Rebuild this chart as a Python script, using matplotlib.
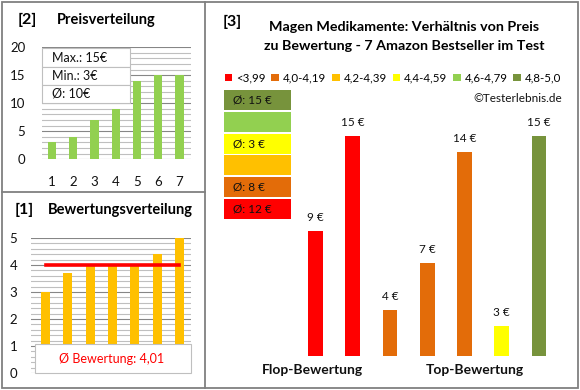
import numpy as np
import matplotlib.pyplot as plt
from matplotlib.patches import Rectangle, Patch
from matplotlib.lines import Line2D

plt.rcParams['font.family'] = ['Lato', 'DejaVu Sans']

# [2] Preisverteilung
preis_pos = [1, 2, 3, 4, 5, 6, 7]
preise = [3, 4, 7, 9, 14, 15, 15]

# [1] Bewertungsverteilung
bew_pos = [1, 2, 3, 4, 5, 6, 7]
bewertungen = [3.0, 3.7, 4.0, 4.0, 4.0, 4.4, 5.0]

# [3] Preis zu Bewertung
klassen = ['<3,99', '4,0-4,19', '4,2-4,39', '4,4-4,59', '4,6-4,79', '4,8-5,0']
klassen_farben = ['#FF0000', '#E36C09', '#FFC000', '#FFFF00', '#92D050', '#77933C']
produkt_preise = [9, 15, 4, 7, 14, 3, 15]
produkt_klasse = [0, 0, 1, 1, 1, 3, 5]
gruppen = ['Flop-Bewertung', 'Top-Bewertung']
gruppen_pos = [-0.09, 4.27]

W, H = 580, 390
fig = plt.figure(figsize=(W / 100, H / 100), dpi=100)
fig.patch.set_facecolor('white')

GRID_MIN = '#BFBFBF'
GRID_MAJ = '#868686'
TXT = '#111111'


def px_axes(x0, y0, x1, y1):
    # pixel box measured from the top-left corner
    return fig.add_axes([x0 / W, 1 - y1 / H, (x1 - x0) / W, (y1 - y0) / H])


def px_text(x, y, s, **kw):
    return fig.text(x / W, 1 - y / H, s, **kw)


def px_rect(x0, y0, x1, y1, **kw):
    r = Rectangle((x0 / W, 1 - y1 / H), (x1 - x0) / W, (y1 - y0) / H,
                  transform=fig.transFigure, **kw)
    fig.add_artist(r)
    return r


def px_line(x0, y0, x1, y1, **kw):
    fig.add_artist(Line2D([x0 / W, x1 / W], [1 - y0 / H, 1 - y1 / H],
                          transform=fig.transFigure, **kw))


# frames
px_rect(2, 2, 578, 388, fill=False, ec='#808080', lw=1.3, zorder=5)
px_line(205, 2, 205, 388, color='#808080', lw=1.3, zorder=5)
px_line(2, 192, 205, 192, color='#808080', lw=1.3, zorder=5)

# ---------------- [2] Preisverteilung
ax1 = px_axes(42, 47.3, 191, 159.3)
for v in range(0, 21):
    ax1.axhline(v, color=GRID_MAJ if v % 5 == 0 else GRID_MIN, lw=0.8, zorder=1)
ax1.bar(preis_pos, preise, width=0.38, color='#92D050', zorder=3)
ax1.set_ylim(0, 20)
ax1.set_xlim(0.53, 7.54)
ax1.set_yticks([0, 5, 10, 15, 20])
ax1.set_xticks(preis_pos)
ax1.tick_params(length=0, labelsize=9.5, colors=TXT)
ax1.tick_params(axis='y', pad=12)
ax1.tick_params(axis='x', pad=12)
for s in ax1.spines.values():
    s.set_visible(False)

px_text(27, 20, '[2]', fontsize=11.5, fontweight='bold', ha='center', va='center')
px_text(57, 20, 'Preisverteilung', fontsize=10.5, fontweight='bold', ha='left', va='center')

info = ['Max.: %d€' % max(preise), 'Min.: %d€' % min(preise),
        'Ø: %d€' % round(np.mean(preise))]
rows = [(48, 67), (67, 85), (85, 103)]
for (y0, y1), s in zip(rows, info):
    px_rect(42, y0, 130, y1, fc='white', ec='#BFBFBF', lw=0.8, zorder=2)
    px_text(52, (y0 + y1) / 2, s, fontsize=9, color=TXT, ha='left', va='center', zorder=3)

# ---------------- [1] Bewertungsverteilung
ax2 = px_axes(31, 238, 191, 373)
for i in range(0, 26):
    v = i * 0.2
    ax2.axhline(v, color=GRID_MAJ if i % 5 == 0 else GRID_MIN, lw=0.8, zorder=1)
ax2.bar(bew_pos, bewertungen, width=0.4, color='#FFC000', zorder=3)
avg = np.mean(bewertungen)
ax2.plot([bew_pos[0], bew_pos[-1]], [avg, avg], color='#FF0000', lw=2.6, zorder=4)
ax2.set_ylim(0, 5)
ax2.set_xlim(0.35, 7.52)
ax2.set_yticks([0, 1, 2, 3, 4, 5])
ax2.set_xticks([])
ax2.tick_params(length=0, labelsize=9.5, colors=TXT, pad=10)
for s in ax2.spines.values():
    s.set_visible(False)

px_rect(35, 344, 191, 373, fc='white', ec='#BFBFBF', lw=0.8, zorder=2)
px_text(112, 359, 'Ø Bewertung: ' + ('%.2f' % avg).replace('.', ','),
        fontsize=9, color='#FF0000', ha='center', va='center', zorder=3)

px_text(24, 210, '[1]', fontsize=11.5, fontweight='bold', ha='center', va='center')
px_text(48, 210, 'Bewertungsverteilung', fontsize=10.5, fontweight='bold', ha='left', va='center')

# ---------------- [3] Preis zu Bewertung
ax3 = px_axes(296.9, 88.5, 557.6, 356)
x3 = np.arange(len(produkt_preise))
farben = [klassen_farben[k] for k in produkt_klasse]
ax3.bar(x3, produkt_preise, width=0.4, color=farben, bottom=0, zorder=3)
ax3.set_ylim(1.1, 18)
ax3.set_xlim(-0.5, 6.5)
for xi, v in zip(x3, produkt_preise):
    ax3.annotate('%d €' % v, (xi, v), xytext=(0, 9.7), textcoords='offset points',
                 ha='center', va='center', fontsize=8.5, color=TXT)
ax3.set_yticks([])
ax3.set_xticks(gruppen_pos)
ax3.set_xticklabels(gruppen, fontsize=10, fontweight='bold', color=TXT)
ax3.tick_params(length=0, pad=5.5)
ax3.patch.set_visible(False)
for s in ax3.spines.values():
    s.set_visible(False)

px_text(223, 22, '[3]', fontsize=11.5, fontweight='bold', ha='left', va='center')
px_text(404, 27, 'Magen Medikamente: Verhältnis von Preis', fontsize=10.3,
        fontweight='bold', ha='center', va='center')
px_text(404, 46, 'zu Bewertung - 7 Amazon Bestseller im Test', fontsize=10.3,
        fontweight='bold', ha='center', va='center')

handles = [Patch(facecolor=c, edgecolor='none') for c in klassen_farben]
fig.legend(handles, klassen, ncol=6, loc='center', bbox_to_anchor=(393 / W, 1 - 78 / H),
           frameon=False, fontsize=8.3, handlelength=0.65, handleheight=0.65,
           handletextpad=0.35, columnspacing=0.5, borderpad=0)

px_text(562, 98, '©Testerlebnis.de', fontsize=8.5, color=TXT, ha='right', va='center')

# class boxes with average price per class
for k, farbe in enumerate(klassen_farben):
    top = 199 - k * 21.8
    px_rect(223.5, top, 291, top + 20, fc=farbe, ec='none', zorder=2)
    werte = [p for p, kk in zip(produkt_preise, produkt_klasse) if kk == k]
    if werte:
        px_text(233, top + 10, 'Ø: %d €' % round(np.mean(werte)), fontsize=8.5,
                color=TXT, ha='left', va='center', zorder=3)

fig.savefig('out.png', dpi=100, facecolor='white')
